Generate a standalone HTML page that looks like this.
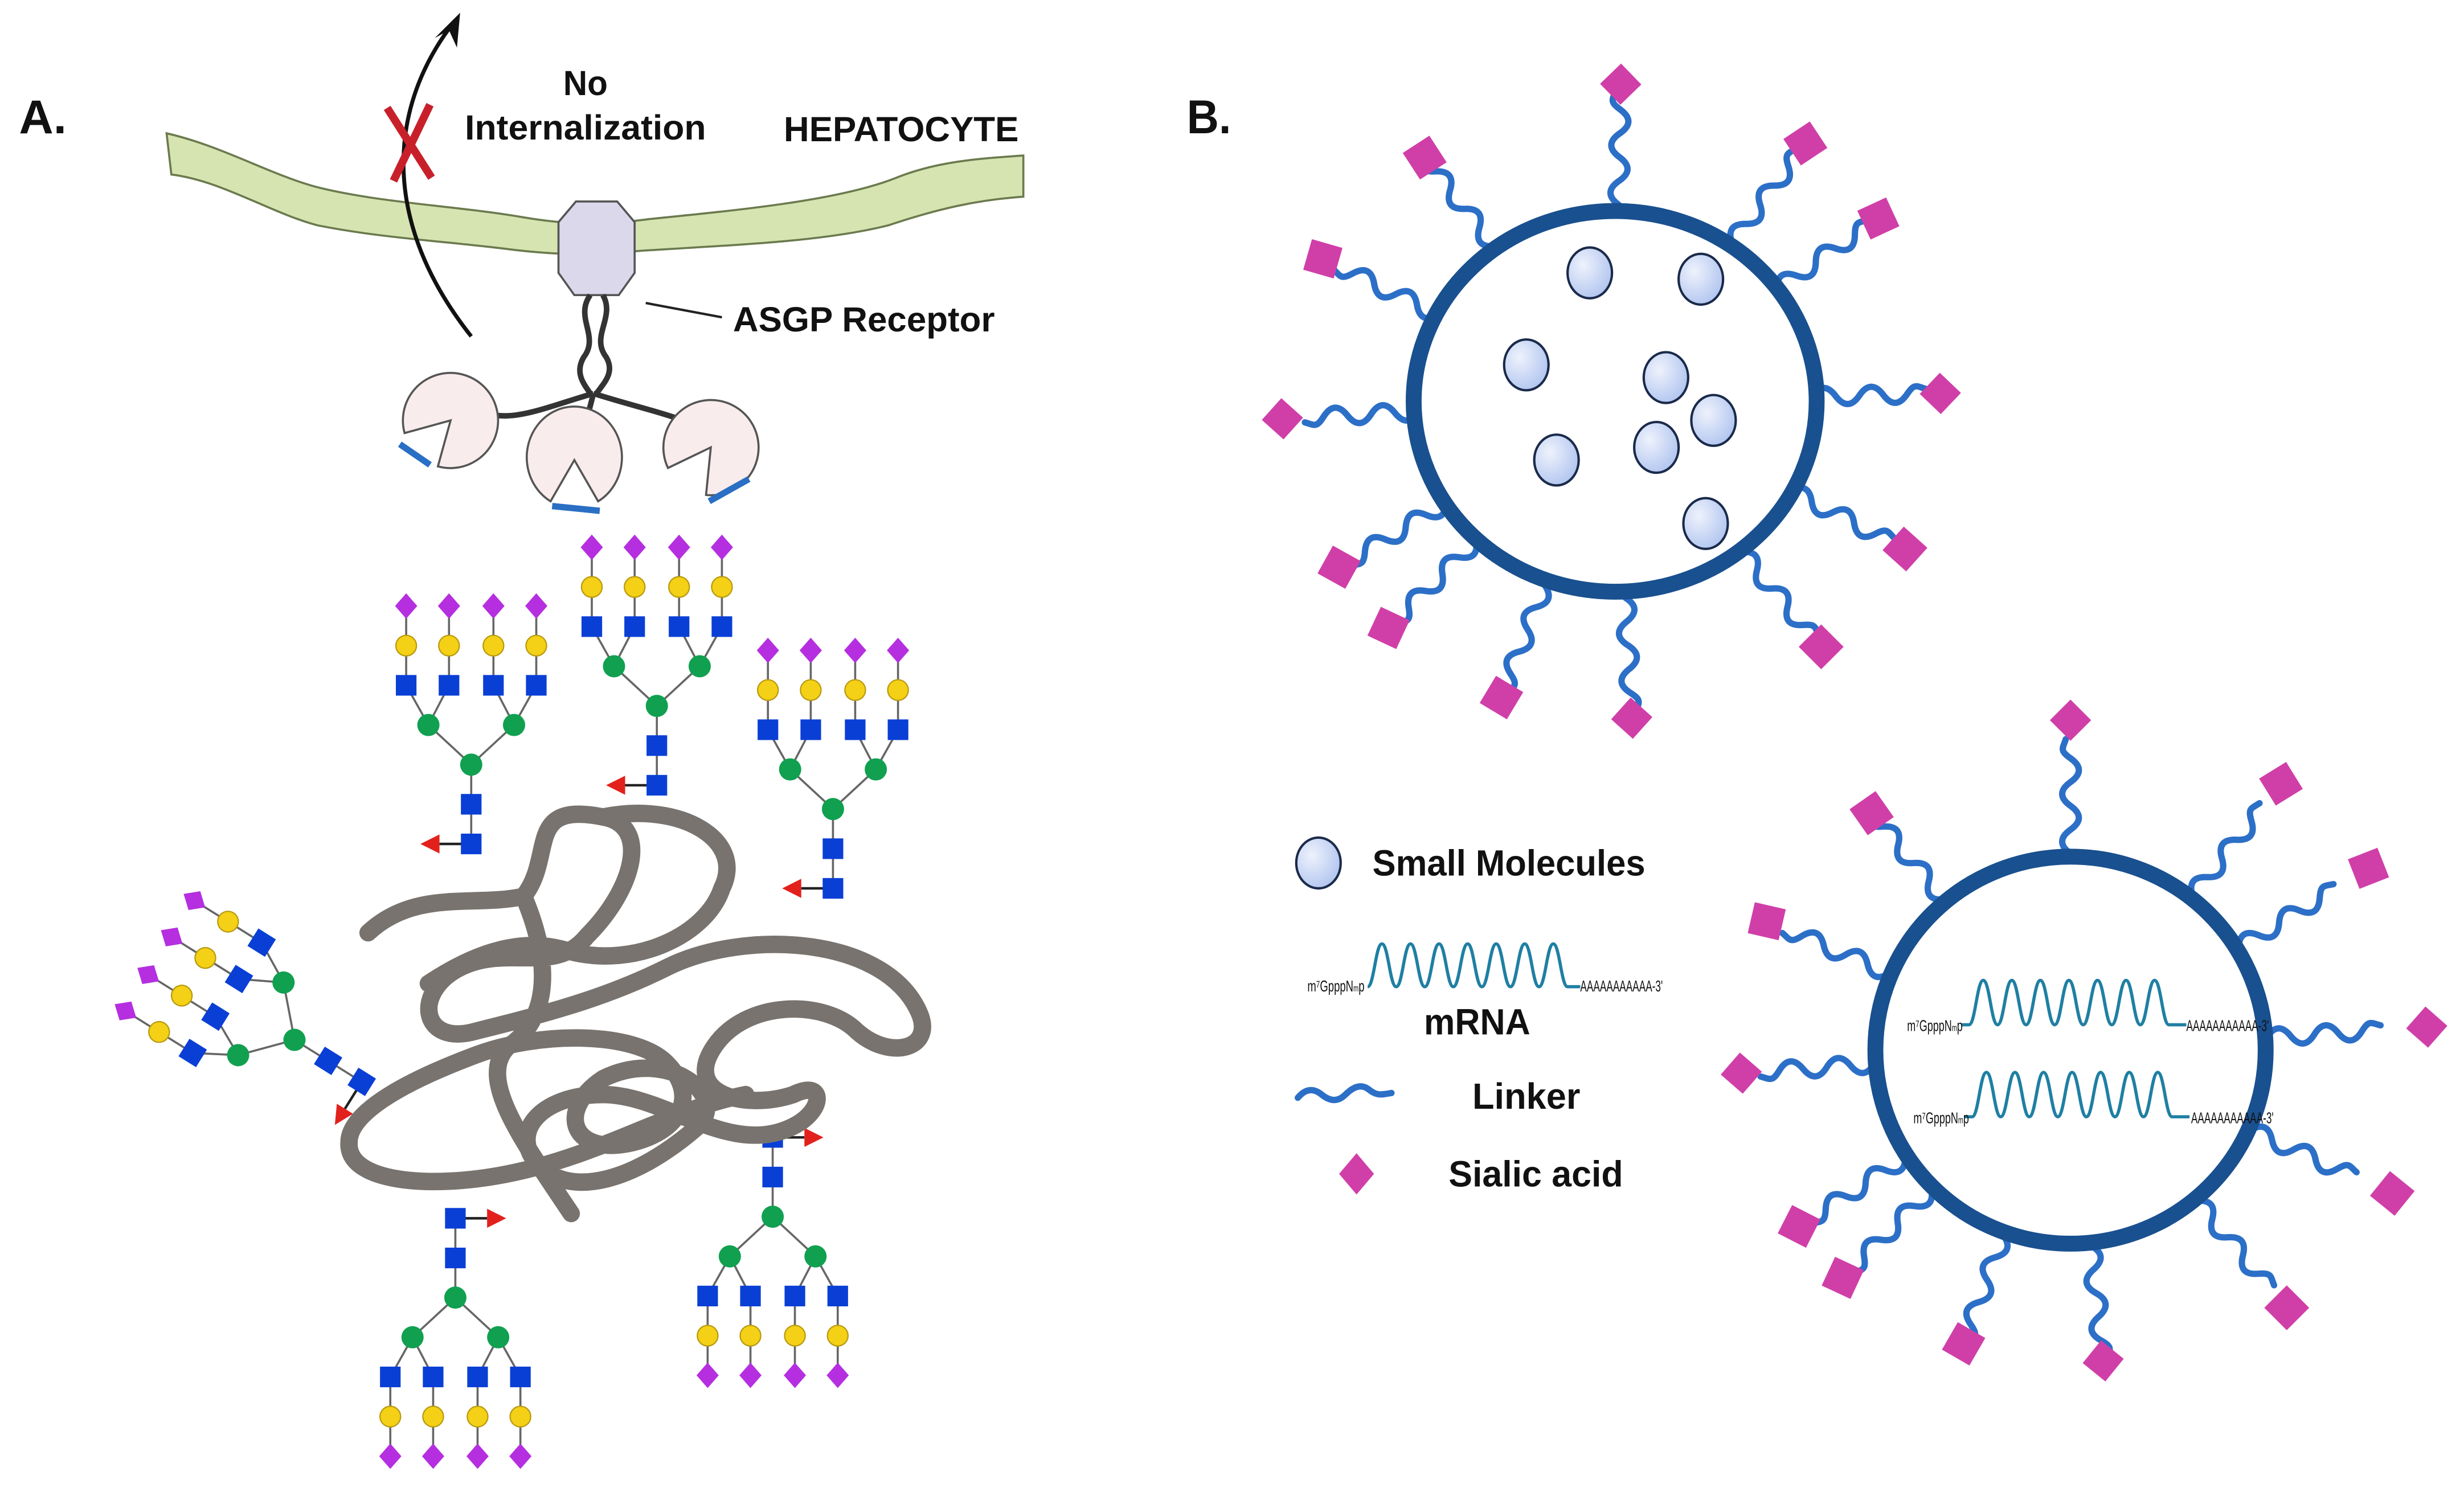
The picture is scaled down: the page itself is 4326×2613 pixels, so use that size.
<!DOCTYPE html>
<html><head><meta charset="utf-8"><style>
html,body{margin:0;padding:0;background:#fff;}
svg{display:block;}
text{font-family:"Liberation Sans",sans-serif;font-weight:bold;fill:#111;}
</style></head><body>
<svg width="4326" height="2613" viewBox="0 0 1553 938" xmlns="http://www.w3.org/2000/svg">
<defs>
<radialGradient id="sm" cx="0.35" cy="0.35" r="0.8"><stop offset="0" stop-color="#eef2fc"/><stop offset="1" stop-color="#a9bfee"/></radialGradient>
<g id="tree" stroke="#666" stroke-width="1.3">
  <line x1="0" y1="0" x2="0" y2="-50"/>
  <line x1="0" y1="-50" x2="-27" y2="-75"/><line x1="0" y1="-50" x2="27" y2="-75"/>
  <line x1="-27" y1="-75" x2="-41" y2="-100"/><line x1="-27" y1="-75" x2="-14" y2="-100"/>
  <line x1="27" y1="-75" x2="14" y2="-100"/><line x1="27" y1="-75" x2="41" y2="-100"/>
  <line x1="-41" y1="-100" x2="-41" y2="-150"/><line x1="-14" y1="-100" x2="-14" y2="-150"/>
  <line x1="14" y1="-100" x2="14" y2="-150"/><line x1="41" y1="-100" x2="41" y2="-150"/>
  <line x1="0" y1="0" x2="-20" y2="0" stroke="#222" stroke-width="1.6"/>
  <polygon points="-32,0 -20,-6 -20,6" fill="#e3211c" stroke="none"/>
  <g stroke="none">
  <rect x="-6.5" y="-6.5" width="13" height="13" fill="#0a3fd6"/>
  <rect x="-6.5" y="-31.5" width="13" height="13" fill="#0a3fd6"/>
  <circle cx="0" cy="-50" r="7" fill="#10a050"/>
  <circle cx="-27" cy="-75" r="7" fill="#10a050"/><circle cx="27" cy="-75" r="7" fill="#10a050"/>
  <rect x="-47.5" y="-106.5" width="13" height="13" fill="#0a3fd6"/><rect x="-20.5" y="-106.5" width="13" height="13" fill="#0a3fd6"/>
  <rect x="7.5" y="-106.5" width="13" height="13" fill="#0a3fd6"/><rect x="34.5" y="-106.5" width="13" height="13" fill="#0a3fd6"/>
  <circle cx="-41" cy="-125" r="6.5" fill="#f4d016" stroke="#b89a10" stroke-width="0.8"/><circle cx="-14" cy="-125" r="6.5" fill="#f4d016" stroke="#b89a10" stroke-width="0.8"/>
  <circle cx="14" cy="-125" r="6.5" fill="#f4d016" stroke="#b89a10" stroke-width="0.8"/><circle cx="41" cy="-125" r="6.5" fill="#f4d016" stroke="#b89a10" stroke-width="0.8"/>
  <polygon points="-41,-158 -34,-150 -41,-142 -48,-150" fill="#b52fe0"/><polygon points="-14,-158 -7,-150 -14,-142 -21,-150" fill="#b52fe0"/>
  <polygon points="14,-158 21,-150 14,-142 7,-150" fill="#b52fe0"/><polygon points="41,-158 48,-150 41,-142 34,-150" fill="#b52fe0"/>
  </g>
</g>
<path id="lk" d="M0,0 c5,-7 10,-7 15,0 s10,7 15,0 s10,-7 15,0 s10,7 15,0 s6,-5 12,-3" fill="none" stroke="#2c6fc7" stroke-width="4" stroke-linecap="round"/>
<rect id="sq" x="-10" y="-10" width="20" height="20" fill="#d03fa8"/>
<polygon id="dm" points="-13,0 0,-13 13,0 0,13" fill="#d03fa8"/>
</defs>

<!-- Panel A -->
<text x="12" y="84" font-size="30" textLength="30" lengthAdjust="spacingAndGlyphs">A.</text>
<path d="M105,84 C140,92 170,110 200,118 C240,128 290,130 330,137 C360,142 380,142 410,138 C470,132 530,126 565,112 C590,102 615,100 645,98 L645,124 C615,126 590,132 560,142 C520,152 470,154 405,158 C380,160 360,162 320,157 C280,152 240,150 200,142 C170,134 140,114 108,110 Z" fill="#d6e4b2" stroke="#6b7a4e" stroke-width="1.3"/>
<path d="M297,212 C240,140 245,70 283,18" fill="none" stroke="#111" stroke-width="2.5"/>
<polygon points="290,8 274,24 283,19 288,30" fill="#111"/>
<line x1="244" y1="68" x2="272" y2="112" stroke="#c8202a" stroke-width="5"/>
<line x1="271" y1="66" x2="248" y2="114" stroke="#c8202a" stroke-width="5"/>
<path d="M363,127 L389,127 L400,140 L400,172 L390,186 L362,186 L352,172 L352,140 Z" fill="#dcd8ec" stroke="#555" stroke-width="1.3"/>
<text x="369" y="60" font-size="22" text-anchor="middle" textLength="28" lengthAdjust="spacingAndGlyphs">No</text>
<text x="369" y="88" font-size="22" text-anchor="middle" textLength="152" lengthAdjust="spacingAndGlyphs">Internalization</text>
<text x="568" y="89" font-size="22" text-anchor="middle" textLength="148" lengthAdjust="spacingAndGlyphs">HEPATOCYTE</text>
<line x1="407" y1="191" x2="455" y2="200" stroke="#222" stroke-width="1.5"/>
<text x="462" y="209" font-size="22" textLength="165" lengthAdjust="spacingAndGlyphs">ASGP Receptor</text>
<g fill="none" stroke="#333" stroke-width="3.5">
<path d="M372,186 C362,200 378,212 368,225 C362,235 368,242 372,248 M380,186 C388,200 372,212 382,225 C388,235 380,242 376,248"/>
<path d="M374,248 C340,258 320,268 300,258"/>
<path d="M374,248 C370,265 366,275 364,290"/>
<path d="M374,248 C405,258 430,262 452,275"/>
</g>
<g fill="#f9ecec" stroke="#555" stroke-width="1.3">
<path d="M284,265 L255,273 A30,30 0 1,1 276,294 Z"/>
<path d="M362,290 L347,316 A30,32 0 1,1 377,316 Z"/>
<path d="M448,282 L421,295 A30,30 0 1,1 445,312 Z"/>
</g>
<g stroke="#2a6fc4" stroke-width="4">
<line x1="252" y1="280" x2="271" y2="293"/>
<line x1="348" y1="319" x2="378" y2="322"/>
<line x1="447" y1="316" x2="472" y2="302"/>
</g>

<!-- glycans -->
<use href="#tree" transform="translate(297,532)"/>
<use href="#tree" transform="translate(414,495)"/>
<use href="#tree" transform="translate(525,560)"/>
<use href="#tree" transform="translate(287,768) scale(-1,-1)"/>
<use href="#tree" transform="translate(487,717) scale(-1,-1)"/>
<use href="#tree" transform="translate(228,682) rotate(-58)"/>

<!-- protein -->
<path d="M232,588 C262,560 300,572 330,565 C350,540 330,505 380,515 C410,520 400,560 370,590 C350,615 320,595 290,610 C260,625 265,660 300,650 C340,640 380,630 420,610 C470,585 560,590 580,640 C588,662 560,668 540,650 C520,630 470,630 450,660 C430,690 470,700 500,690 C520,680 520,700 500,710 C460,730 420,690 380,690 C340,690 320,715 340,735 C360,755 400,745 440,710 C460,690 420,660 380,680 C350,700 360,730 400,720 C430,712 440,690 420,670 C400,650 340,650 300,665 C260,680 220,700 220,720 C218,745 270,750 320,740 C380,728 420,700 470,690 M380,515 C430,505 470,530 455,560 C445,590 400,610 360,600 C330,590 300,600 270,620 M330,565 C345,600 350,640 320,660 C300,680 330,720 360,765" fill="none" stroke="#78736e" stroke-width="11" stroke-linejoin="round" stroke-linecap="round"/>

<!-- Panel B -->
<text x="748" y="84" font-size="30" textLength="28" lengthAdjust="spacingAndGlyphs">B.</text>

<!-- top NP -->
<g>
<g transform="translate(1018,253)">
<g transform="rotate(-89)"><use href="#lk" transform="translate(124,0)"/><use href="#dm" transform="translate(200,0)"/></g>
<g transform="rotate(-53.6)"><use href="#lk" transform="translate(124,0)"/><use href="#sq" transform="translate(202,0) rotate(20)"/></g>
<g transform="rotate(-34.8)"><use href="#lk" transform="translate(124,0)"/><use href="#sq" transform="translate(202,0) rotate(10)"/></g>
<g transform="rotate(-1.4)"><use href="#lk" transform="translate(124,0)"/><use href="#dm" transform="translate(205,0)"/></g>
<g transform="rotate(27)"><use href="#lk" transform="translate(124,0)"/><use href="#sq" transform="translate(205,0) rotate(15)"/></g>
<g transform="rotate(50)"><use href="#lk" transform="translate(124,0)"/><use href="#sq" transform="translate(202,0) rotate(-5)"/></g>
<g transform="rotate(87)"><use href="#lk" transform="translate(124,0)"/><use href="#dm" transform="translate(200,0)"/></g>
<g transform="rotate(111)"><use href="#lk" transform="translate(124,0)"/><use href="#sq" transform="translate(200,0) rotate(10)"/></g>
<g transform="rotate(135)"><use href="#lk" transform="translate(124,0)"/><use href="#sq" transform="translate(202,0) rotate(-20)"/></g>
<g transform="rotate(149)"><use href="#lk" transform="translate(124,0)"/><use href="#sq" transform="translate(203,0) rotate(-30)"/></g>
<g transform="rotate(177)"><use href="#lk" transform="translate(124,0)"/><use href="#dm" transform="translate(210,0)"/></g>
<g transform="rotate(206)"><use href="#lk" transform="translate(124,0)"/><use href="#sq" transform="translate(205,0) rotate(-10)"/></g>
<g transform="rotate(232)"><use href="#lk" transform="translate(124,0)"/><use href="#sq" transform="translate(195,0) rotate(5)"/></g>
</g>
<ellipse cx="1018" cy="253" rx="127" ry="120" fill="#fff" stroke="#19508f" stroke-width="10"/>
<g fill="url(#sm)" stroke="#1a2a4a" stroke-width="1.5">
<ellipse cx="1002" cy="172" rx="14" ry="16"/><ellipse cx="1072" cy="176" rx="14" ry="16"/>
<ellipse cx="962" cy="230" rx="14" ry="16"/><ellipse cx="1050" cy="238" rx="14" ry="16"/>
<ellipse cx="1080" cy="265" rx="14" ry="16"/><ellipse cx="981" cy="290" rx="14" ry="16"/>
<ellipse cx="1044" cy="282" rx="14" ry="16"/><ellipse cx="1075" cy="330" rx="14" ry="16"/>
</g>
</g>

<!-- bottom NP -->
<g transform="translate(1305,662)">
<g transform="rotate(-90)"><use href="#lk" transform="translate(124,0)"/><use href="#dm" transform="translate(208,0)"/></g>
<g transform="rotate(-51.7)"><use href="#lk" transform="translate(124,0)"/><use href="#sq" transform="translate(214,0) rotate(20)"/></g>
<g transform="rotate(-31.4)"><use href="#lk" transform="translate(124,0)"/><use href="#sq" transform="translate(220,0) rotate(10)"/></g>
<g transform="rotate(-3.7)"><use href="#lk" transform="translate(124,0)"/><use href="#dm" transform="translate(225,0)"/></g>
<g transform="rotate(24)"><use href="#lk" transform="translate(124,0)"/><use href="#sq" transform="translate(222,0) rotate(15)"/></g>
<g transform="rotate(50)"><use href="#lk" transform="translate(124,0)"/><use href="#sq" transform="translate(212,0) rotate(-5)"/></g>
<g transform="rotate(84)"><use href="#lk" transform="translate(124,0)"/><use href="#dm" transform="translate(197,0)"/></g>
<g transform="rotate(110)"><use href="#lk" transform="translate(124,0)"/><use href="#sq" transform="translate(197,0) rotate(10)"/></g>
<g transform="rotate(135)"><use href="#lk" transform="translate(124,0)"/><use href="#sq" transform="translate(203,0) rotate(-20)"/></g>
<g transform="rotate(147)"><use href="#lk" transform="translate(124,0)"/><use href="#sq" transform="translate(204,0) rotate(-30)"/></g>
<g transform="rotate(176)"><use href="#lk" transform="translate(124,0)"/><use href="#dm" transform="translate(208,0)"/></g>
<g transform="rotate(203)"><use href="#lk" transform="translate(124,0)"/><use href="#sq" transform="translate(208,0) rotate(-10)"/></g>
<g transform="rotate(230)"><use href="#lk" transform="translate(124,0)"/><use href="#sq" transform="translate(195,0) rotate(5)"/></g>
</g>
<ellipse cx="1305" cy="662" rx="123" ry="122" fill="#fff" stroke="#19508f" stroke-width="10"/>

<!-- mRNA -->
<g fill="none" stroke="#1f7fa3" stroke-width="2">
<path d="M1236,646 L1241,646 c4,0 5,-28 9,-28 s5,28 9,28 s5,-28 9,-28 s5,28 9,28 s5,-28 9,-28 s5,28 9,28 s5,-28 9,-28 s5,28 9,28 s5,-28 9,-28 s5,28 9,28 s5,-28 9,-28 s5,28 9,28 s5,-28 9,-28 s5,28 9,28 L1378,646"/>
<path d="M1238,704 L1243,704 c4,0 5,-28 9,-28 s5,28 9,28 s5,-28 9,-28 s5,28 9,28 s5,-28 9,-28 s5,28 9,28 s5,-28 9,-28 s5,28 9,28 s5,-28 9,-28 s5,28 9,28 s5,-28 9,-28 s5,28 9,28 s5,-28 9,-28 s5,28 9,28 L1380,704"/>
<path d="M862,622 c4,0 5,-27 9,-27 s5,27 9,27 s5,-27 9,-27 s5,27 9,27 s5,-27 9,-27 s5,27 9,27 s5,-27 9,-27 s5,27 9,27 s5,-27 9,-27 s5,27 9,27 s5,-27 9,-27 s5,27 9,27 s5,-27 9,-27 s5,27 9,27 L996,622"/>
</g>
<text x="1202" y="650" font-size="10" textLength="35" lengthAdjust="spacingAndGlyphs" style="font-weight:normal">m⁷GpppN<tspan font-size="6">m</tspan>p</text>
<text x="1378" y="650" font-size="10" textLength="52" lengthAdjust="spacingAndGlyphs" style="font-weight:normal">AAAAAAAAAAA-3'</text>
<text x="1206" y="708" font-size="10" textLength="35" lengthAdjust="spacingAndGlyphs" style="font-weight:normal">m⁷GpppN<tspan font-size="6">m</tspan>p</text>
<text x="1381" y="708" font-size="10" textLength="52" lengthAdjust="spacingAndGlyphs" style="font-weight:normal">AAAAAAAAAAA-3'</text>
<text x="824" y="625" font-size="10" textLength="36" lengthAdjust="spacingAndGlyphs" style="font-weight:normal">m⁷GpppN<tspan font-size="6">m</tspan>p</text>
<text x="996" y="625" font-size="10" textLength="52" lengthAdjust="spacingAndGlyphs" style="font-weight:normal">AAAAAAAAAAA-3'</text>

<!-- legend -->
<ellipse cx="831" cy="544" rx="14" ry="16" fill="url(#sm)" stroke="#1a2a4a" stroke-width="1.5"/>
<text x="865" y="552" font-size="23" textLength="172" lengthAdjust="spacingAndGlyphs">Small Molecules</text>
<text x="931" y="652" font-size="23" text-anchor="middle" textLength="67" lengthAdjust="spacingAndGlyphs">mRNA</text>
<path d="M818,692 c5,-6 10,-6 15,-2 s10,5 15,0 s10,-7 15,-3 s8,3 14,2" fill="none" stroke="#2c6fc7" stroke-width="4" stroke-linecap="round"/>
<text x="928" y="699" font-size="23" textLength="68" lengthAdjust="spacingAndGlyphs">Linker</text>
<polygon points="855,727 866,740 855,753 844,740" fill="#d03fa8"/>
<text x="913" y="748" font-size="23" textLength="110" lengthAdjust="spacingAndGlyphs">Sialic acid</text>
</svg>
</body></html>
